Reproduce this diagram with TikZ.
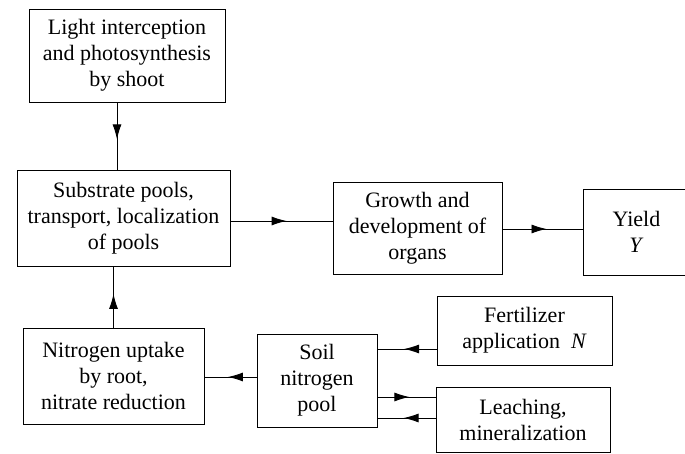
\documentclass[tikz,border=0pt]{standalone}
\usepackage{fontspec}
\setmainfont{Liberation Serif}
\usetikzlibrary{arrows.meta,decorations.markings}
\tikzset{
  box/.style={draw, line width=0.9pt, align=center, inner sep=0pt,
    font=\fontsize{22}{26}\selectfont},
  midarrow/.style={line width=0.9pt, postaction={decorate},
    decoration={markings, mark=at position 0.55 with {\arrow{Latex[length=15pt,width=9pt]}}}}
}
\begin{document}
\begin{tikzpicture}[x=1pt,y=1pt]
\useasboundingbox (0,0) rectangle (685,454);
\node[box, minimum width=196pt, minimum height=93pt] (light) at (127,398.5)
  {Light interception\\and photosynthesis\\by shoot};
\node[box, minimum width=213pt, minimum height=96pt] (sub) at (123.5,236)
  {Substrate pools,\\transport, localization\\of pools};
\node[box, minimum width=169pt, minimum height=92pt] (growth) at (417.5,226)
  {Growth and\\development of\\organs};
\node[box, minimum width=107pt, minimum height=86pt] (yield) at (636.5,222)
  {Yield\\\textit{Y}};
\node[box, minimum width=181pt, minimum height=96pt] (nit) at (113.5,78)
  {Nitrogen uptake\\by root,\\nitrate reduction};
\node[box, minimum width=120pt, minimum height=93pt] (soil) at (317,73.5)
  {Soil\\nitrogen\\pool};
\node[box, minimum width=175pt, minimum height=69pt] (fert) at (524.5,123.5)
  {Fertilizer\\application\ \ \textit{N}};
\node[box, minimum width=174pt, minimum height=65pt] (leach) at (523,34.5)
  {Leaching,\\mineralization};
\coordinate (a1) at (117,0);
\coordinate (a2) at (0,233);
\coordinate (a3) at (0,225);
\coordinate (a5) at (0,77);
\coordinate (a6) at (0,105);
\coordinate (a7) at (0,57);
\coordinate (a8) at (0,36);
\draw[midarrow] (light.south -| a1) -- (sub.north -| a1);
\draw[midarrow] (sub.east |- a2) -- (growth.west |- a2);
\draw[midarrow] (growth.east |- a3) -- (yield.west |- a3);
\draw[midarrow] (nit.north) -- (nit.north |- sub.south);
\draw[midarrow] (soil.west |- a5) -- (nit.east |- a5);
\draw[midarrow] (fert.west |- a6) -- (soil.east |- a6);
\draw[midarrow] (soil.east |- a7) -- (leach.west |- a7);
\draw[midarrow] (leach.west |- a8) -- (soil.east |- a8);
\end{tikzpicture}
\end{document}
